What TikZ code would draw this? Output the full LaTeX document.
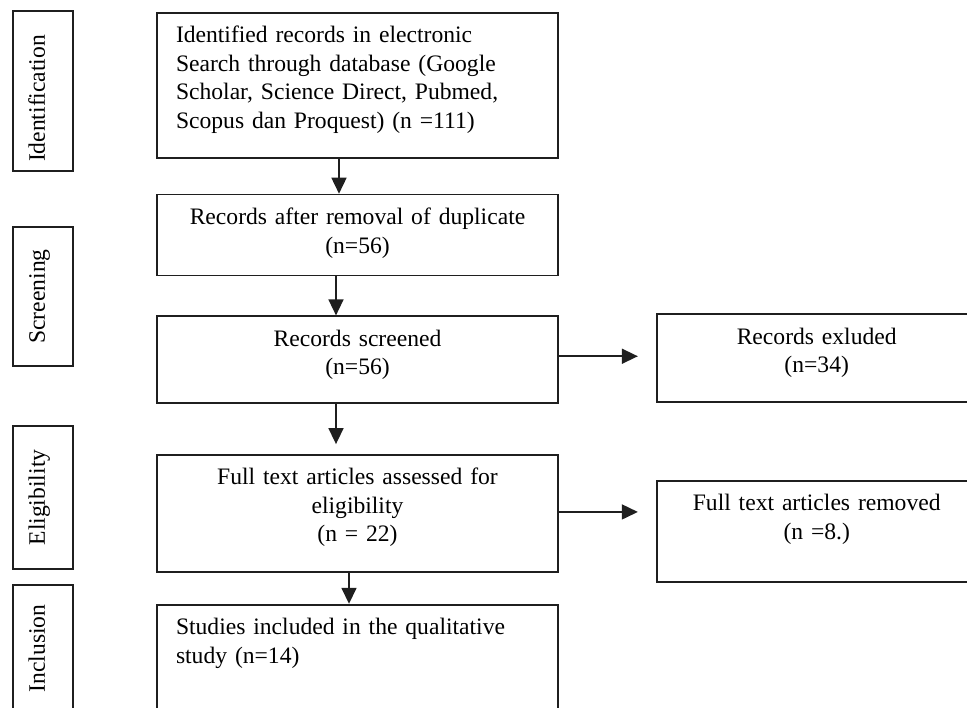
\documentclass[tikz,border=0pt]{standalone}
\usepackage{fontspec}
\setmainfont{Liberation Serif}
\usetikzlibrary{arrows.meta, positioning}
\definecolor{mline}{HTML}{1F1F1F}
\tikzstyle{phase} = [rectangle, draw=mline, line width=1.7pt, rotate=90, minimum height=60pt, text height=16pt, text depth=12pt]
\tikzstyle{stage} = [rectangle, draw=mline, line width=1.7pt, anchor=north, inner xsep=19pt, inner ysep=14pt, text height=16pt, text width=363pt, align=center]
\tikzstyle{side} = [stage, text width=282pt]
\tikzstyle{flow} = [line width=1.6pt, draw=mline, -{Triangle[length=16pt, width=15pt]}]

\begin{document}
\begin{tikzpicture}[font=\fontsize{23.6pt}{28.5pt}\selectfont]
  \clip (0,0) rectangle (967pt,-708pt);
  % phases on the left
  \node (ident) [phase, text width=142pt, inner xsep=9pt, align=left] at (43pt,-91pt) {Identification};
  \node (scrn) [phase, minimum width=139pt] at (43pt,-296.5pt) {Screening};
  \node (elig) [phase, minimum width=143pt] at (43pt,-497.5pt) {Eligibility};
  \node (incl) [phase, minimum width=127pt] at (43pt,-648.5pt) {Inclusion};
  % main column
  \node (search) [stage, align=left, text depth=101pt] at (357.5pt,-12pt) {Identified records in electronic\\Search through database (Google\\Scholar, Science Direct, Pubmed,\\Scopus dan Proquest) (n =111)};
  \node (dedup) [stage, text depth=37pt, below=35pt of search] {Records after removal of duplicate\\(n=56)};
  \node (screen) [stage, text depth=43pt, below=39pt of dedup] {Records screened\\(n=56)};
  \node (fulltext) [stage, text depth=73pt, below=50pt of screen] {Full text articles assessed for\\eligibility\\(n = 22)};
  \node (studies) [stage, align=left, text depth=100pt, below=31pt of fulltext] {Studies included in the qualitative\\study (n=14)};
  % removed records
  \node (excluded) [side, text depth=44pt, right=97pt of screen, yshift=1.5pt] {Records exluded\\(n=34)};
  \node (removed) [side, text depth=57pt, right=97pt of fulltext, yshift=-18pt] {Full text articles removed\\(n =8.)};
  \draw [flow] ([xshift=-18.5pt]search.south) -- ([xshift=-18.5pt]dedup.north);
  \draw [flow] ([xshift=-21.5pt]dedup.south) -- ([xshift=-21.5pt]screen.north);
  \draw [flow] ([xshift=-21.5pt]screen.south) -- ([xshift=-21.5pt, yshift=10pt]fulltext.north);
  \draw [flow] ([xshift=-8.5pt]fulltext.south) -- ([xshift=-8.5pt]studies.north);
  \draw [flow] ([yshift=3.5pt]screen.east) -- ([xshift=-18pt, yshift=2pt]excluded.west);
  \draw [flow] ([yshift=1.5pt]fulltext.east) -- ([xshift=-18pt, yshift=19.5pt]removed.west);
\end{tikzpicture}
\end{document}
